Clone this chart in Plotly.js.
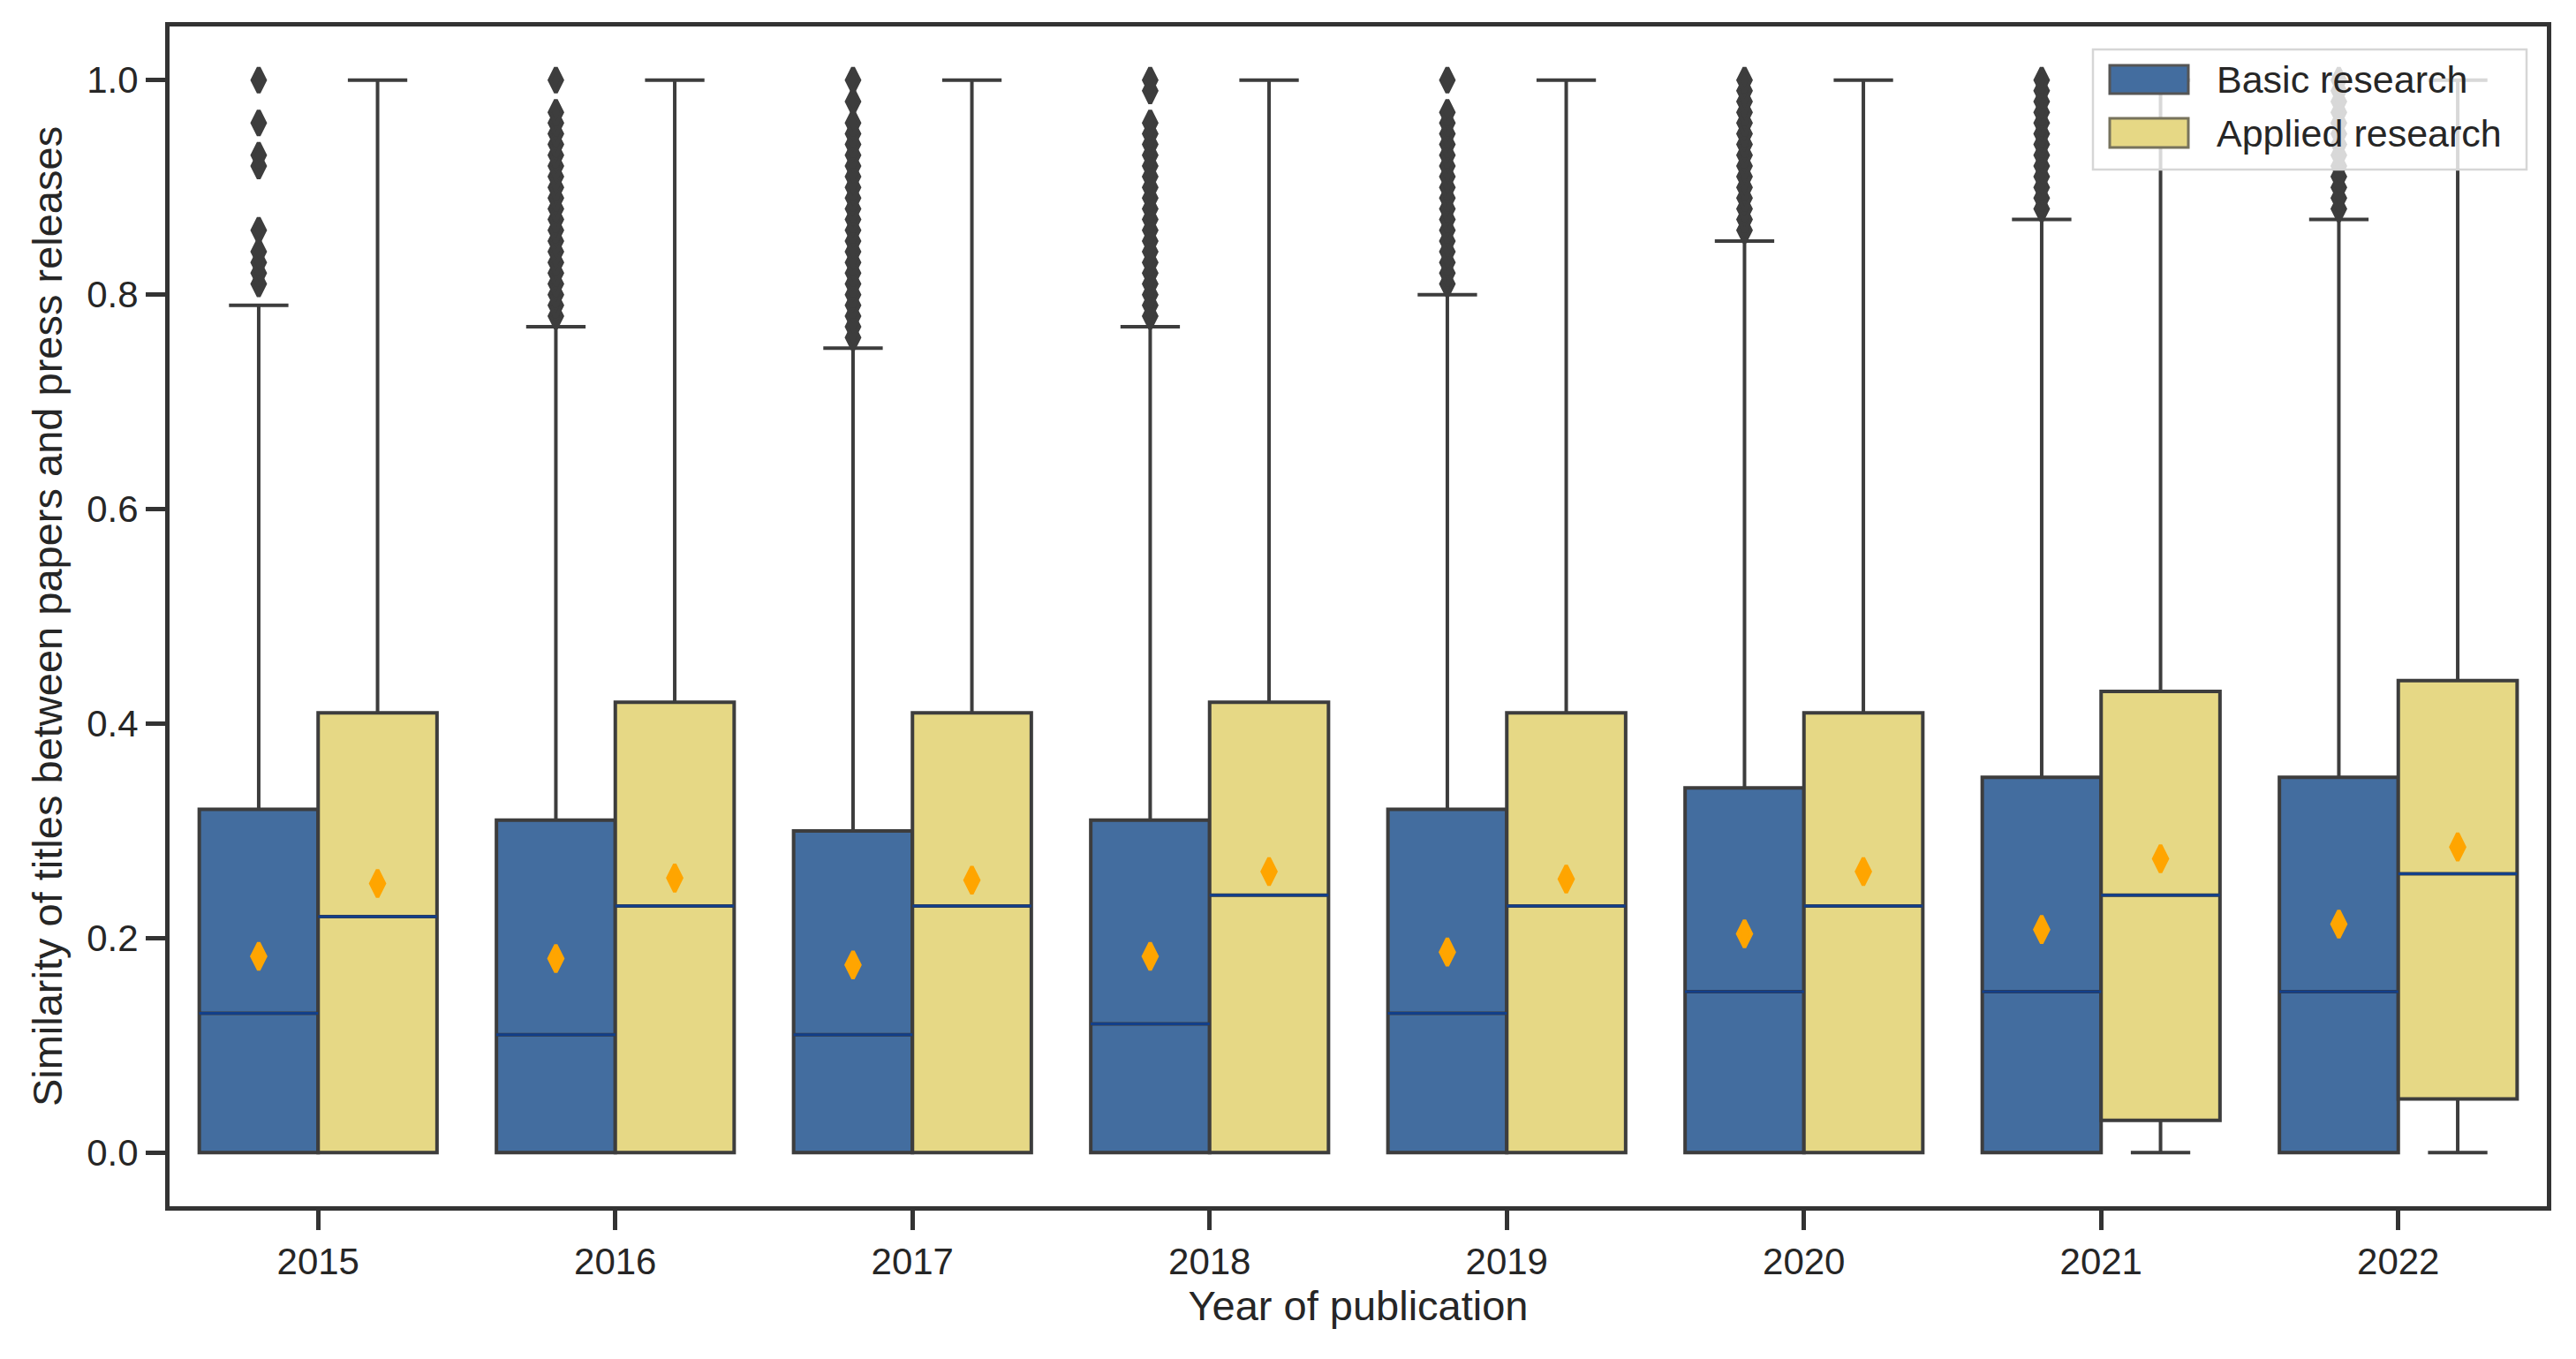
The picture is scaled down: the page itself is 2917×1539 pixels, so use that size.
<!DOCTYPE html>
<html>
<head>
<meta charset="utf-8">
<script src="https://cdn.plot.ly/plotly-3.0.1.min.js"></script>
<style>html,body{margin:0;padding:0;background:#fff;}#chart{width:2917px;height:1539px;}</style>
</head>
<body>
<div id="chart"></div>
<script>
// ---- data ----
const years = ['2015','2016','2017','2018','2019','2020','2021','2022'];
const seriesNames = ['Basic research', 'Applied research'];

const basicQ1     = [0, 0, 0, 0, 0, 0, 0, 0];
const basicMedian = [0.13, 0.11, 0.11, 0.12, 0.13, 0.15, 0.15, 0.15];
const basicQ3     = [0.32, 0.31, 0.30, 0.31, 0.32, 0.34, 0.35, 0.35];
const basicLower  = [0, 0, 0, 0, 0, 0, 0, 0];
const basicUpper  = [0.79, 0.77, 0.75, 0.77, 0.80, 0.85, 0.87, 0.87];
const basicMean   = [0.183, 0.181, 0.175, 0.183, 0.187, 0.204, 0.208, 0.213];

const appliedQ1     = [0, 0, 0, 0, 0, 0, 0.03, 0.05];
const appliedMedian = [0.22, 0.23, 0.23, 0.24, 0.23, 0.23, 0.24, 0.26];
const appliedQ3     = [0.41, 0.42, 0.41, 0.42, 0.41, 0.41, 0.43, 0.44];
const appliedLower  = [0, 0, 0, 0, 0, 0, 0, 0];
const appliedUpper  = [1, 1, 1, 1, 1, 1, 1, 1];
const appliedMean   = [0.251, 0.256, 0.254, 0.262, 0.255, 0.262, 0.274, 0.285];

// outliers of the basic-research boxes, one list per year
const basicOutliers = [
  [0.81, 0.82, 0.83, 0.84, 0.86, 0.92, 0.93, 0.96, 1.0],
  [0.78, 0.79, 0.80, 0.81, 0.82, 0.83, 0.84, 0.85, 0.86, 0.87, 0.88, 0.89, 0.90, 0.91, 0.92, 0.93, 0.94, 0.95, 0.96, 0.97, 1.0],
  [0.76, 0.77, 0.78, 0.79, 0.80, 0.81, 0.82, 0.83, 0.84, 0.85, 0.86, 0.87, 0.88, 0.89, 0.90, 0.91, 0.92, 0.93, 0.94, 0.95, 0.96, 0.98, 1.0],
  [0.78, 0.79, 0.80, 0.81, 0.82, 0.83, 0.84, 0.85, 0.86, 0.87, 0.88, 0.89, 0.90, 0.91, 0.92, 0.93, 0.94, 0.95, 0.96, 0.99, 1.0],
  [0.81, 0.82, 0.83, 0.84, 0.85, 0.86, 0.87, 0.88, 0.89, 0.90, 0.91, 0.92, 0.93, 0.94, 0.95, 0.96, 0.97, 1.0],
  [0.86, 0.87, 0.88, 0.89, 0.90, 0.91, 0.92, 0.93, 0.94, 0.95, 0.96, 0.97, 0.98, 0.99, 1.0],
  [0.88, 0.89, 0.90, 0.91, 0.92, 0.93, 0.94, 0.95, 0.96, 0.97, 0.98, 0.99, 1.0],
  [0.88, 0.89, 0.90, 0.91, 0.92, 0.93, 0.94, 0.95, 0.96, 0.97, 0.98, 0.99, 1.0]
];

// ---- styles ----
const BLUE = '#436d9f';
const YELLOW = '#e6d885';
const EDGE = '#3d3d3d';
const MEDIAN = '#123f8a';
const MEAN = '#ffa500';
const FONT = 'Liberation Sans, Arial, Helvetica, sans-serif';
const OFF = 0.2;      // half of one box width
const BW = 0.4;       // box width in category units

const W = 2917, H = 1539;
const M = {l: 192, r: 33, t: 30, b: 173};
const plotW = W - M.l - M.r, plotH = H - M.t - M.b;
const px = v => (v - M.l) / plotW;            // page pixel x -> paper x
const py = v => (H - M.b - v) / plotH;        // page pixel y -> paper y

const idx = years.map((_, i) => i);
const xb = idx.map(i => i - OFF);
const xa = idx.map(i => i + OFF);

function boxTrace(name, x, q1, med, q3, lo, hi, fill) {
  return {
    type: 'box', name: name, x: x,
    q1: q1, median: med, q3: q3, lowerfence: lo, upperfence: hi,
    width: BW, whiskerwidth: 0.5,
    fillcolor: fill,
    line: {color: EDGE, width: 4},
    boxpoints: false, hoverinfo: 'skip', showlegend: false
  };
}

function medianTrace(x, med) {
  const xs = [], ys = [];
  x.forEach((c, i) => { xs.push(c - OFF, c + OFF, null); ys.push(med[i], med[i], null); });
  return {type: 'scatter', mode: 'lines', x: xs, y: ys, line: {color: MEDIAN, width: 3},
          showlegend: false, hoverinfo: 'skip'};
}

const outX = [], outY = [];
basicOutliers.forEach((list, i) => list.forEach(v => { outX.push(xb[i]); outY.push(v); }));

const data = [
  boxTrace(seriesNames[0], xb, basicQ1, basicMedian, basicQ3, basicLower, basicUpper, BLUE),
  boxTrace(seriesNames[1], xa, appliedQ1, appliedMedian, appliedQ3, appliedLower, appliedUpper, YELLOW),
  medianTrace(xb, basicMedian),
  medianTrace(xa, appliedMedian),
  {type: 'scatter', mode: 'markers', x: outX, y: outY, showlegend: false, hoverinfo: 'skip',
   marker: {symbol: 'diamond-tall', size: 20, color: EDGE, line: {color: EDGE, width: 4.5}}},
  {type: 'scatter', mode: 'markers', x: xb, y: basicMean, showlegend: false, hoverinfo: 'skip',
   marker: {symbol: 'diamond-tall', size: 22, color: MEAN, line: {color: MEAN, width: 4}}},
  {type: 'scatter', mode: 'markers', x: xa, y: appliedMean, showlegend: false, hoverinfo: 'skip',
   marker: {symbol: 'diamond-tall', size: 22, color: MEAN, line: {color: MEAN, width: 4}}}
];

// legend drawn as a framed box with colour swatches and text labels
const legendShapes = [
  {type: 'rect', xref: 'paper', yref: 'paper', layer: 'above',
   x0: px(2370), x1: px(2861), y0: py(192), y1: py(56),
   fillcolor: 'rgba(255,255,255,0.8)', line: {color: '#d6d6d6', width: 2.5}},
  {type: 'rect', xref: 'paper', yref: 'paper', layer: 'above',
   x0: px(2389), x1: px(2478), y0: py(106), y1: py(74),
   fillcolor: BLUE, line: {color: '#555555', width: 3}},
  {type: 'rect', xref: 'paper', yref: 'paper', layer: 'above',
   x0: px(2389), x1: px(2478), y0: py(167), y1: py(134),
   fillcolor: YELLOW, line: {color: '#77735c', width: 3}}
];
const legendText = [
  {xref: 'paper', yref: 'paper', x: px(2508), y: py(90), xanchor: 'left', yanchor: 'middle',
   text: seriesNames[0], showarrow: false, font: {family: FONT, size: 43, color: '#262626'}},
  {xref: 'paper', yref: 'paper', x: px(2508), y: py(151), xanchor: 'left', yanchor: 'middle',
   text: seriesNames[1], showarrow: false, font: {family: FONT, size: 43, color: '#262626'}}
];

const layout = {
  width: W, height: H,
  margin: M,
  paper_bgcolor: '#ffffff', plot_bgcolor: '#ffffff',
  font: {family: FONT, size: 42, color: '#262626'},
  showlegend: false,
  shapes: legendShapes,
  annotations: legendText,
  xaxis: {
    range: [-0.5, 7.5], tickmode: 'array', tickvals: idx, ticktext: years,
    showgrid: false, zeroline: false,
    showline: true, mirror: true, linecolor: '#333333', linewidth: 5,
    ticks: 'outside', ticklen: 22, tickwidth: 5, tickcolor: '#333333',
    tickfont: {family: FONT, size: 42, color: '#262626'},
    title: {text: 'Year of publication', font: {family: FONT, size: 47, color: '#262626'}, standoff: 12}
  },
  yaxis: {
    range: [-0.05, 1.05], tickmode: 'array', tickvals: [0, 0.2, 0.4, 0.6, 0.8, 1.0],
    tickformat: '.1f',
    showgrid: false, zeroline: false,
    showline: true, mirror: true, linecolor: '#333333', linewidth: 5,
    ticks: 'outside', ticklen: 22, tickwidth: 5, tickcolor: '#333333',
    tickfont: {family: FONT, size: 42, color: '#262626'},
    title: {text: 'Similarity of titles between papers and press releases', font: {family: FONT, size: 47, color: '#262626'}, standoff: 14}
  }
};

Plotly.newPlot('chart', data, layout, {displayModeBar: false, staticPlot: true});
</script>
</body>
</html>
